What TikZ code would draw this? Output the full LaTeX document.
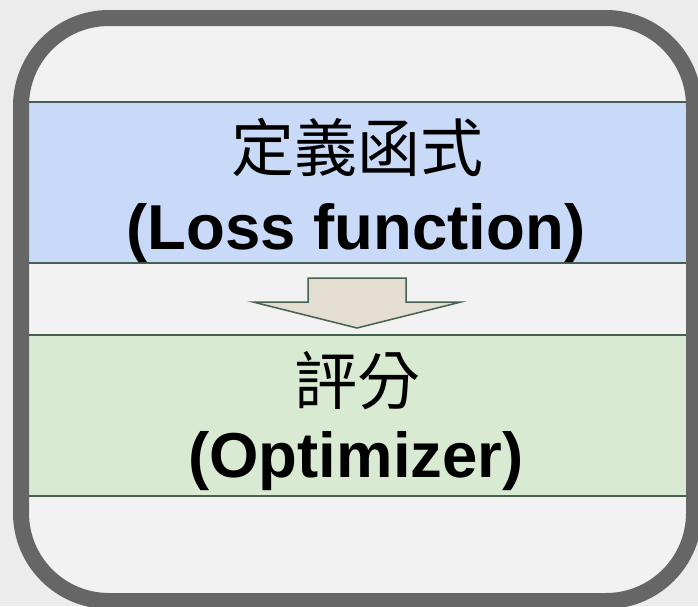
\documentclass[tikz,border=0pt]{standalone}
\usepackage{fontspec}
\setmainfont{Liberation Sans}
\newfontfamily\cjk{Noto Sans CJK TC}
\usepackage{tikz}

\definecolor{bgray}{HTML}{ECECEC}
\definecolor{inner}{HTML}{F2F2F2}
\definecolor{frame}{HTML}{666666}
\definecolor{edge}{HTML}{45614F}
\definecolor{lossblue}{HTML}{C9DAF8}
\definecolor{optgreen}{HTML}{D9EAD3}
\definecolor{arrowfill}{HTML}{E3DDD2}

\begin{document}
\begin{tikzpicture}[x=1pt, y=-1pt,
  band/.style={draw=edge, line width=1.8pt, minimum width=671pt, minimum height=161pt, inner sep=0pt},
  zh/.style={anchor=base, inner sep=0pt, font=\cjk\fontsize{63}{63}\selectfont},
  en/.style={anchor=base, inner sep=0pt, font=\bfseries\fontsize{63.5}{63.5}\selectfont}]
  \clip (0,0) rectangle (698,606);
  \fill[bgray] (0,0) rectangle (698,606);
  \fill[inner, rounded corners=88pt] (21,18) rectangle (694,601);

  % the two steps
  \node[band, fill=lossblue] (A) at (357.5,182.5) {};
  \node[band, fill=optgreen] (B) at (357.5,415.5) {};

  \node[zh] (A1) at (357,171) {定義函式};
  \node[en] (A2) at (356,249) {(Loss function)};
  \node[zh] (B1) at (357,404) {評分};
  \node[en] (B2) at (356,477) {(Optimizer)};

  % block arrow between them
  \draw[edge, fill=arrowfill, line width=1.5pt]
    (308,278) -- (406,278) -- (406,302) -- (461,302) -- (357,328)
    -- (253,302) -- (308,302) -- cycle;

  \draw[frame, line width=16pt, rounded corners=88pt] (21,18) rectangle (694,601);
\end{tikzpicture}
\end{document}
